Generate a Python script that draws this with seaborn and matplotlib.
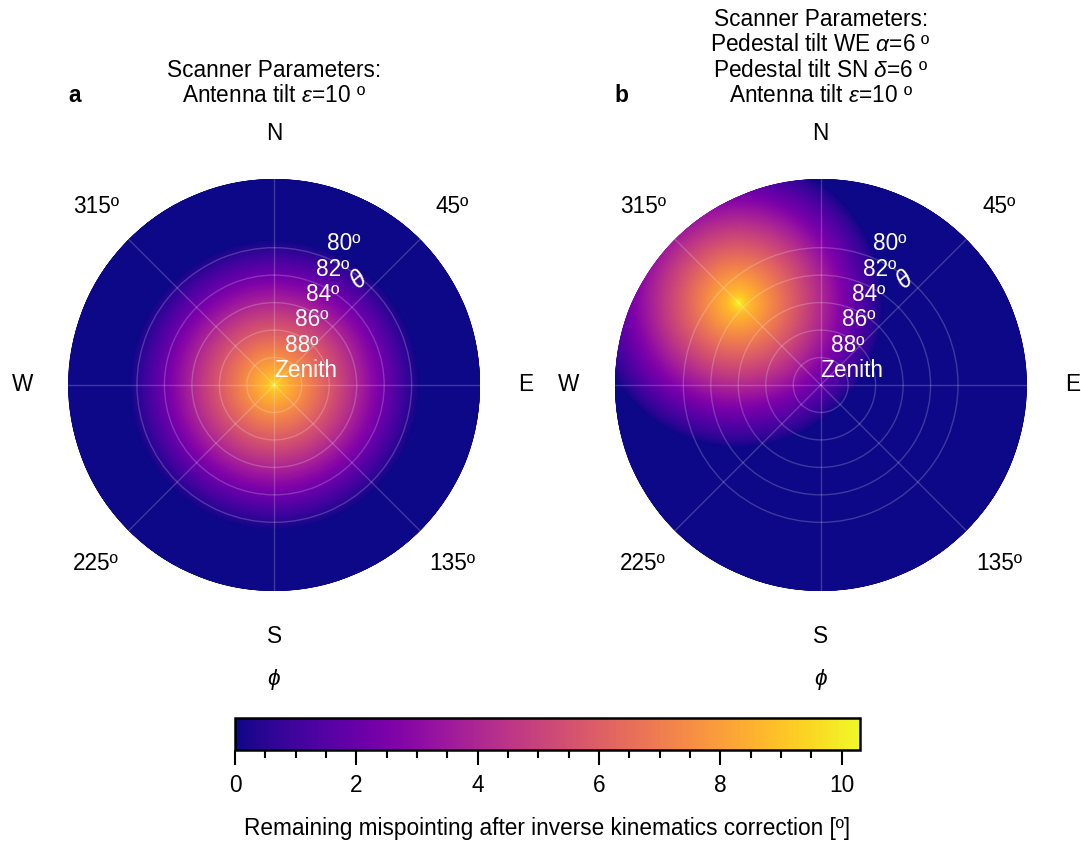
import numpy as np
import matplotlib
matplotlib.use("Agg")
import matplotlib.pyplot as plt
from matplotlib.ticker import MultipleLocator
import seaborn as sns

# ---- values ----
# azimuth tick labels (clockwise from North)
azimuth_ticks_deg = [0, 45, 90, 135, 180, 225, 270, 315]
azimuth_labels = ["N", "45º", "E", "135º", "S", "225º", "W", "315º"]

# zenith-distance rings and their elevation labels
ring_radii = [0, 2, 4, 6, 8, 10]
ring_labels = ["Zenith", "88º", "86º", "84º", "82º", "80º"]
r_max = 15  # zenith distance at the edge of the disk (elevation 75º)

# mispointing [º] versus angular distance [º] from the scanner's own pole
profile_dist = [0.0, 0.5, 1.0, 2.0, 4.0, 6.0, 8.0, 10.0, 10.6, 15.0, 40.0]
profile_val_a = [10.0, 9.0, 8.5, 7.6, 5.8, 4.0, 2.2, 0.5, 0.0, 0.0, 0.0]
profile_val_b = [10.3, 9.2, 8.6, 7.7, 5.9, 4.1, 2.3, 0.6, 0.0, 0.0, 0.0]

# location of the scanner pole (zenith distance, azimuth) for each panel
pole_a = (0.0, 0.0)
pole_b = (8.5, 315.0)

titles = [
    "Scanner Parameters:\nAntenna tilt $\\varepsilon$=10 º",
    "Scanner Parameters:\nPedestal tilt WE $\\alpha$=6 º\n"
    "Pedestal tilt SN $\\delta$=6 º\nAntenna tilt $\\varepsilon$=10 º",
]
panel_letters = ["a", "b"]
cbar_ticks = [0, 2, 4, 6, 8, 10]
cbar_vmax = 10.3
cbar_label = "Remaining mispointing after inverse kinematics correction [º]"

# ---- style ----
sns.set_style("white")
plt.rcParams["font.family"] = ["Liberation Sans", "DejaVu Sans"]
plt.rcParams["text.color"] = "black"
plt.rcParams["axes.labelcolor"] = "black"
plt.rcParams["xtick.color"] = "black"
plt.rcParams["ytick.color"] = "black"
plt.rcParams["mathtext.fontset"] = "custom"
plt.rcParams["mathtext.rm"] = "Liberation Sans"
plt.rcParams["mathtext.it"] = "Liberation Sans:italic"
plt.rcParams["mathtext.bf"] = "Liberation Sans:bold"
FS = 16.3
cmap = sns.color_palette("plasma", as_cmap=True)

fig = plt.figure(figsize=(10.81, 8.42), dpi=100)
W, H = 1081, 842


def px_axes(cx, cy, rad):
    return [(cx - rad) / W, (H - cy - rad) / H, 2 * rad / W, 2 * rad / H]


centers = [(274.3, 385.0), (820.7, 385.0)]
radius_px = 206.0

# polar grid on which the field is evaluated
theta_grid = np.deg2rad(np.linspace(0, 360, 721))
r_grid = np.linspace(0, r_max, 301)
TH, RR = np.meshgrid(theta_grid, r_grid)
X = RR * np.sin(TH)
Y = RR * np.cos(TH)

mesh = None
for k, (pole, prof) in enumerate([(pole_a, profile_val_a), (pole_b, profile_val_b)]):
    ax = fig.add_axes(px_axes(*centers[k], radius_px), projection="polar")
    ax.set_theta_zero_location("N")
    ax.set_theta_direction(-1)

    px0 = pole[0] * np.sin(np.deg2rad(pole[1]))
    py0 = pole[0] * np.cos(np.deg2rad(pole[1]))
    dist = np.hypot(X - px0, Y - py0)
    field = np.interp(dist, profile_dist, prof)

    mesh = ax.pcolormesh(TH, RR, field, cmap=cmap, vmin=0, vmax=cbar_vmax,
                         shading="gouraud", rasterized=True)
    ax.set_ylim(0, r_max)
    ax.set_axisbelow(False)
    ax.set_xticks(np.deg2rad(azimuth_ticks_deg))
    ax.set_xticklabels(azimuth_labels, fontsize=FS, color="black")
    ax.tick_params(axis="x", pad=26, length=0)
    ax.set_yticks(ring_radii[1:])
    ax.set_yticklabels([])
    ax.grid(True, color="white", alpha=0.2, linewidth=1.0)
    ax.spines["polar"].set_visible(False)

    # elevation labels along the 22.5º radial
    for rr, lab in zip(ring_radii, ring_labels):
        ax.annotate(lab, xy=(np.deg2rad(22.5), rr), xytext=(0, 2),
                    textcoords="offset points", ha="left", va="bottom",
                    color="white", fontsize=FS)
    ax.text(np.deg2rad(39), 9.8, "$\\theta$", color="white", fontsize=FS + 1.5,
            ha="center", va="center", rotation=40)

    ax.text(0.5, -0.215, "$\\phi$", transform=ax.transAxes, ha="center",
            va="center", fontsize=FS)
    ax.text(0.5, 1.187, titles[k], transform=ax.transAxes, ha="center",
            va="baseline", fontsize=FS, multialignment="center",
            linespacing=1.13)
    ax.text(0.0, 1.187, panel_letters[k], transform=ax.transAxes, ha="left",
            va="baseline", fontsize=FS, fontweight="bold")

# colorbar
cax = fig.add_axes([235 / W, (H - 750) / H, 625 / W, 32 / H])
cbar = fig.colorbar(mesh, cax=cax, orientation="horizontal")
cbar.set_ticks(cbar_ticks)
cbar.ax.xaxis.set_minor_locator(MultipleLocator(0.5))
cbar.ax.tick_params(which="major", direction="out", length=11, width=1.5,
                    labelsize=FS, bottom=True, pad=6, colors="black")
cbar.ax.tick_params(which="minor", direction="out", length=5.5, width=1.5,
                    bottom=True, colors="black")
cbar.outline.set_linewidth(1.8)
cbar.outline.set_edgecolor("black")
cbar.set_label(cbar_label, fontsize=FS, labelpad=15, color="black")

fig.savefig("out.png", dpi=100)
